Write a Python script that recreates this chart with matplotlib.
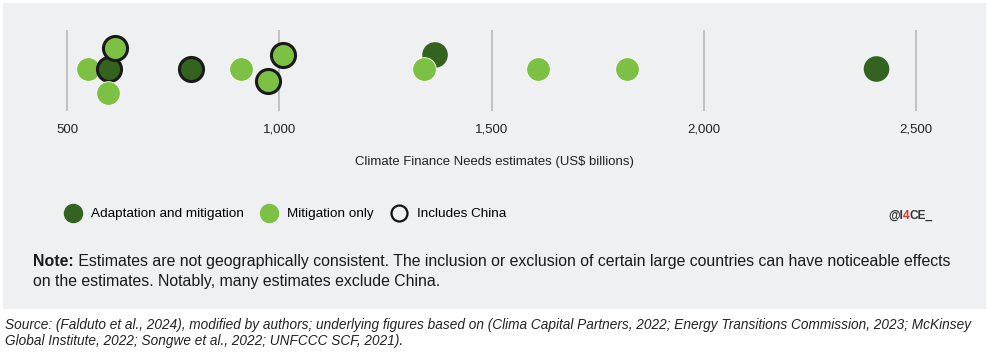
import matplotlib
matplotlib.use("Agg")
import matplotlib.pyplot as plt
from matplotlib.lines import Line2D
from matplotlib.patches import Rectangle

# Estimates (US$ billions), vertical offset only used to separate overlapping dots
values = [550, 600, 612, 597, 793, 909, 973, 1010, 1367, 1342, 1610, 1820, 2407]
offsets = [0, 0, 21, -24, 0, 0, -12, 14, 14, 0, 0, 0, 0]
scope = ["mit", "both", "mit", "mit", "both", "mit", "mit", "mit",
         "both", "mit", "mit", "mit", "both"]
china = [False, True, True, False, True, False, True, True,
         False, False, False, False, False]

ticks = [500, 1000, 1500, 2000, 2500]
tick_labels = ["500", "1,000", "1,500", "2,000", "2,500"]

DARK = "#34621f"
LIGHT = "#7cc143"
BG = "#eff0f2"
FONT = ["Liberation Sans", "DejaVu Sans"]

W, H = 989, 359
fig = plt.figure(figsize=(W / 100, H / 100), dpi=100)
fig.patches.append(Rectangle((3 / W, 1 - 308 / H), 982 / W, 305 / H,
                             transform=fig.transFigure, color=BG, zorder=-5))

# axes spans full width, top 140 px of figure; 1 y-unit = 1 px
ax = fig.add_axes([0, 1 - 140 / H, 1, 140 / H])
ax.set_xlim(500 - 67 / 0.4245, 500 + (W - 67) / 0.4245)
ax.set_ylim(-71, 69)
ax.axis("off")

ax.vlines(ticks, -42, 39, color="#b4b4b4", lw=1.1, zorder=1)
for t, lab in zip(ticks, tick_labels):
    ax.text(t, -61, lab, ha="center", va="center", fontsize=9.5,
            family=FONT, color="#222222")

for v, o, s, c in zip(values, offsets, scope, china):
    col = DARK if s == "both" else LIGHT
    if c:
        ax.scatter(v, o, s=300, color=col, edgecolor="#1a1a1a", lw=2.2, zorder=3)
    elif s == "both":
        ax.scatter(v, o, s=340, color=col, edgecolor="none", zorder=3)
    else:
        ax.scatter(v, o, s=290, color=col, edgecolor="white", lw=0.6, zorder=3)

fig.text(494 / W, 1 - 162 / H, "Climate Finance Needs estimates (US$ billions)",
         ha="center", va="center", fontsize=9.45, family=FONT, color="#222222")

handles = [
    Line2D([], [], ls="none", marker="o", ms=13, color=DARK),
    Line2D([], [], ls="none", marker="o", ms=13, color=LIGHT),
    Line2D([], [], ls="none", marker="o", ms=11.5, mfc="none", mec="#111111", mew=1.6),
]
labels = ["Adaptation and mitigation", "Mitigation only", "Includes China"]
fig.legend(handles, labels, loc="center left", bbox_to_anchor=(66 / W, 1 - 214 / H),
           ncol=3, frameon=False, prop={"family": FONT, "size": 9.7},
           handlelength=1.0, handletextpad=0.83, columnspacing=1.38,
           borderpad=0, borderaxespad=0)

fig.canvas.draw()
r = fig.canvas.get_renderer()


def chain(x, y, parts, **kw):
    # draw text pieces one after another on the same baseline
    for txt, extra in parts:
        t = fig.text(x / W, 1 - y / H, txt, va="baseline", **kw, **extra)
        x = t.get_window_extent(r).x1
    return x


chain(888, 219, [("@I", {"color": "#333333"}), ("4", {"color": "#e03030"}),
                 ("CE_", {"color": "#333333"})],
      fontsize=8.6, weight="bold", family=FONT)

NOTE = dict(fontsize=11.4, family=FONT, color="#1a1a1a")
chain(33, 266, [("Note:", {"weight": "bold"}),
                (" Estimates are not geographically consistent. The inclusion or exclusion "
                 "of certain large countries can have noticeable effects", {})], **NOTE)
fig.text(33 / W, 1 - 286 / H,
         "on the estimates. Notably, many estimates exclude China.",
         va="baseline", **NOTE)

fig.text(5 / W, 1 - 333 / H,
         "Source: (Falduto et al., 2024), modified by authors; underlying figures based on "
         "(Clima Capital Partners, 2022; Energy Transitions Commission, 2023; McKinsey\n"
         "Global Institute, 2022; Songwe et al., 2022; UNFCCC SCF, 2021).",
         fontsize=9.85, family=FONT, style="italic", color="#222222", va="center",
         linespacing=1.25)

fig.savefig("out.png", dpi=100)
